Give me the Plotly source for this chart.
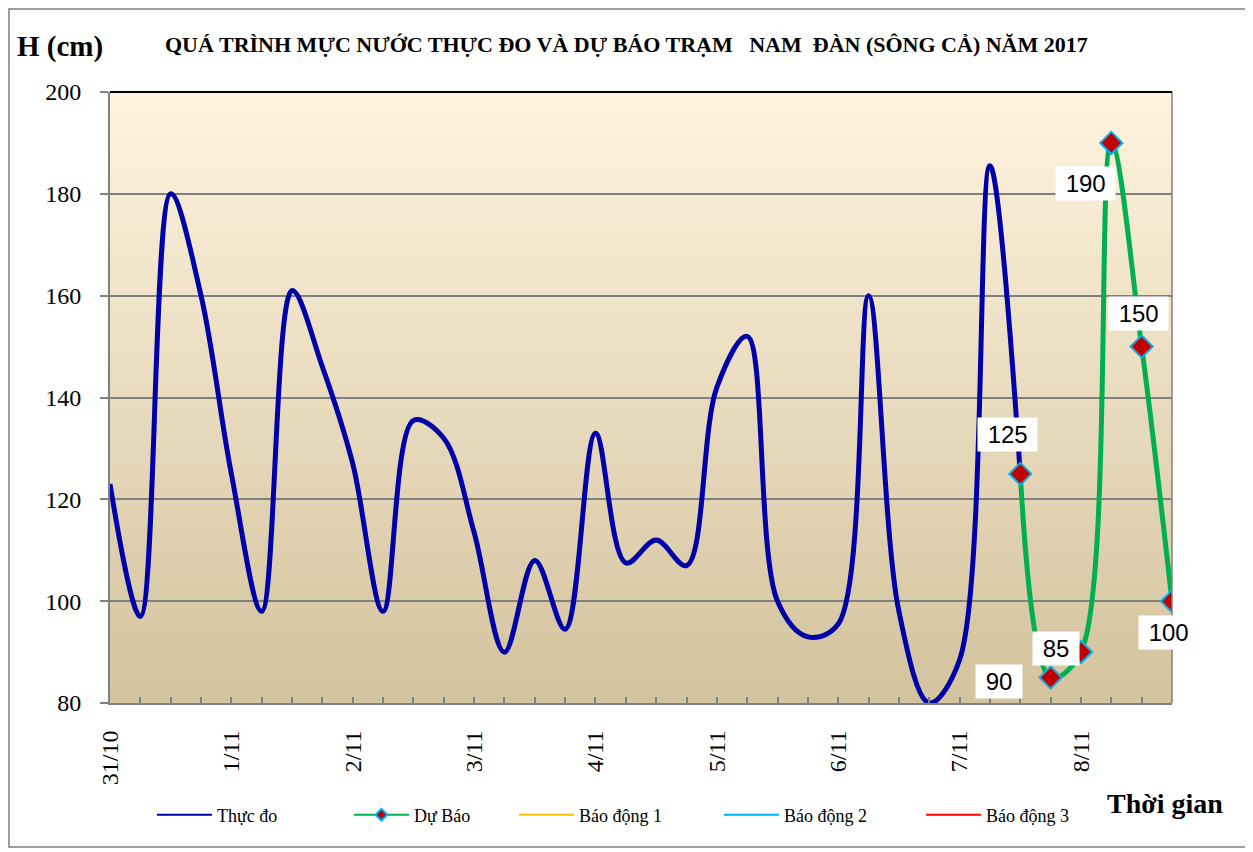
import plotly.graph_objects as go

# ---------------- data ----------------
day_labels = ["31/10", "1/11", "2/11", "3/11", "4/11", "5/11", "6/11", "7/11", "8/11"]
steps_per_day = 4
n_points = 36

observed = [123, 97, 180, 160, 125, 98, 161, 146, 127, 98,
            135.5, 132, 113.5, 90, 108, 94.5, 133, 107.5, 112, 107,
            142, 152, 100, 93, 95.5, 160, 98, 80, 88.5, 185.5, 125]
forecast_start = 30
forecast = [125, 85, 90, 190, 150, 100]
alarm1 = 540
alarm2 = 690
alarm3 = 790

title_text = "QUÁ TRÌNH MỰC NƯỚC THỰC ĐO VÀ DỰ BÁO TRẠM   NAM  ĐÀN (SÔNG CẢ) NĂM 2017"

# ---------------- figure ----------------
x_all = list(range(n_points))
x_obs = list(range(len(observed)))
x_fc = list(range(forecast_start, forecast_start + len(forecast)))

serif = "Liberation Serif, Times New Roman, serif"
sans = "Liberation Sans, Arial, sans-serif"

blue = "#0000a8"
green = "#00b050"
diamond = dict(symbol="diamond", color="#c00000", line=dict(color="#00b0f0", width=2))

fig = go.Figure()
# plotted series
fig.add_trace(go.Scatter(x=x_obs, y=observed, mode="lines", name="Thực đo", showlegend=False,
                         line=dict(color=blue, width=5, shape="spline", smoothing=1.0)))
fig.add_trace(go.Scatter(x=x_fc, y=forecast, mode="lines+markers", name="Dự Báo", showlegend=False,
                         line=dict(color=green, width=5, shape="spline", smoothing=1.0),
                         marker=dict(size=17, **diamond)))
# legend entries (thin keys, like the original legend)
fig.add_trace(go.Scatter(x=[None], y=[None], mode="lines", name="Thực đo", legend="legend",
                         line=dict(color=blue, width=2)))
fig.add_trace(go.Scatter(x=[None], y=[None], mode="lines+markers", name="Dự Báo", legend="legend2",
                         line=dict(color=green, width=2),
                         marker=dict(size=9, symbol="diamond", color="#c00000",
                                     line=dict(color="#00b0f0", width=2))))
fig.add_trace(go.Scatter(x=x_all, y=[alarm1] * n_points, mode="lines", name="Báo động 1",
                         legend="legend3", line=dict(color="#ffc000", width=2)))
fig.add_trace(go.Scatter(x=x_all, y=[alarm2] * n_points, mode="lines", name="Báo động 2",
                         legend="legend4", line=dict(color="#00b0f0", width=2)))
fig.add_trace(go.Scatter(x=x_all, y=[alarm3] * n_points, mode="lines", name="Báo động 3",
                         legend="legend5", line=dict(color="#ff0000", width=2)))

# gradient background bands (plot area)
top = (254, 243, 222)
bot = (211, 195, 158)
nb = 80
shapes = []
for i in range(nb):
    t = i / (nb - 1)
    c = tuple(round(bot[k] + (top[k] - bot[k]) * t) for k in range(3))
    shapes.append(dict(type="rect", xref="paper", yref="paper",
                       x0=0, x1=1, y0=i / nb, y1=(i + 1) / nb + 0.002,
                       fillcolor="rgb(%d,%d,%d)" % c, line=dict(width=0), layer="below"))
shapes.append(dict(type="line", xref="paper", yref="paper", x0=1, x1=1, y0=0, y1=1,
                   line=dict(color="#808080", width=1.5)))
shapes.append(dict(type="line", xref="paper", yref="paper", x0=0, x1=1, y0=1, y1=1,
                   line=dict(color="#000000", width=2)))
# chart outer border
shapes.append(dict(type="rect", xref="paper", yref="paper",
                   x0=-0.0951, x1=1.0697, y0=-0.2357, y1=1.1358,
                   line=dict(color="#808080", width=1.5), fillcolor="rgba(0,0,0,0)"))
fig.update_layout(shapes=shapes)

# data labels
label_offsets = [(-13, 39), (5, 29), (-82, -29), (-26, -41), (-3, 33), (-4, -31)]
for xi, v, (dx, dy) in zip(x_fc, forecast, label_offsets):
    fig.add_annotation(x=xi, y=v, xref="x", yref="y", text="\u00a0" + str(v) + "\u00a0",
                       showarrow=False, xshift=dx, yshift=dy, bgcolor="white", borderpad=3,
                       font=dict(family=sans, size=24, color="black"))

fig.add_annotation(x=-0.047, y=1.074, xref="paper", yref="paper", text="<b>H (cm)</b>",
                   xanchor="center", yanchor="middle",
                   showarrow=False, font=dict(family=serif, size=29, color="black"))
fig.add_annotation(x=0.4859, y=1.077, xref="paper", yref="paper", text="<b>" + title_text + "</b>",
                   xanchor="center", yanchor="middle",
                   showarrow=False, font=dict(family=serif, size=22, color="black"))
fig.add_annotation(x=0.9934, y=-0.1637, xref="paper", yref="paper", text="<b>Thời gian</b>",
                   xanchor="center", yanchor="middle",
                   showarrow=False, font=dict(family=serif, size=28, color="black"))

fig.update_xaxes(range=[0, n_points - 1],
                 tickvals=[i * steps_per_day for i in range(len(day_labels))],
                 ticktext=day_labels, tickangle=-90,
                 tickfont=dict(family=serif, size=24, color="black"),
                 ticks="inside", ticklen=6, tickcolor="#808080", tickwidth=1.5,
                 minor=dict(dtick=1, ticks="inside", ticklen=6, tickcolor="#808080", tickwidth=1.5),
                 showgrid=False, zeroline=False,
                 showline=True, linecolor="#808080", linewidth=2,
                 ticklabelstandoff=16)
fig.update_yaxes(range=[80, 200], dtick=20,
                 tickfont=dict(family=serif, size=24, color="black"),
                 ticks="outside", ticklen=8, tickcolor="#808080", tickwidth=1.5,
                 showgrid=True, gridcolor="#808080", gridwidth=1.5,
                 zeroline=False, showline=True, linecolor="#808080", linewidth=2,
                 ticklabelstandoff=14)

leg_common = dict(orientation="h", y=-0.1833, yanchor="middle", xanchor="left",
                  font=dict(family=serif, size=18, color="black"),
                  itemwidth=55, bgcolor="rgba(0,0,0,0)")
fig.update_layout(
    width=1240, height=840,
    margin=dict(l=102, r=76, t=84, b=145),
    paper_bgcolor="white", plot_bgcolor="rgba(0,0,0,0)",
    showlegend=True,
    legend=dict(x=0.0395, **leg_common),
    legend2=dict(x=0.2250, **leg_common),
    legend3=dict(x=0.3804, **leg_common),
    legend4=dict(x=0.5734, **leg_common),
    legend5=dict(x=0.7637, **leg_common),
)

fig.write_html("out.html")
